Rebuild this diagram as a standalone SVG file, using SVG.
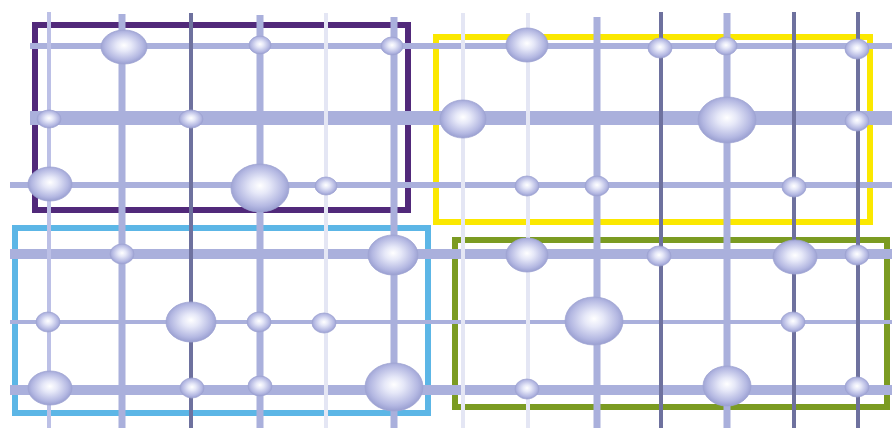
<svg xmlns="http://www.w3.org/2000/svg" width="892" height="428" viewBox="0 0 892 428">
<defs>
<radialGradient id="ball" cx="50%" cy="48%" r="55%" fx="50%" fy="45%">
<stop offset="0" stop-color="#ffffff"/>
<stop offset="0.3" stop-color="#e6e8f8"/>
<stop offset="0.75" stop-color="#b4b8e2"/>
<stop offset="1" stop-color="#9298cc"/>
</radialGradient>
<style>
.frame{fill:none;stroke-width:6}
.h{stroke:#aab0dc}
.vl{stroke:#aab0dc;stroke-width:7}
.vt{stroke:#bcc0e6;stroke-width:4}
.vd{stroke:#6e719e;stroke-width:4}
.vw{stroke:#e4e6f4;stroke-width:4}
.b{fill:url(#ball);stroke:#9ea3d2;stroke-width:0.8}
</style>
</defs>
<rect width="892" height="428" fill="#ffffff"/>
<g id="frames">
<rect id="frame-purple" class="frame" x="35" y="25" width="373" height="185" stroke="#51297a"/>
<rect id="frame-yellow" class="frame" x="436" y="37" width="434" height="185" stroke="#fbe800"/>
<rect id="frame-blue" class="frame" x="15" y="228" width="413" height="185" stroke="#5cb6e6"/>
<rect id="frame-green" class="frame" x="455" y="240" width="432" height="167" stroke="#7b9b22"/>
</g>
<g id="connectors">
<g id="horizontal">
<line class="h" x1="30" y1="46" x2="892" y2="46" stroke-width="6"/>
<line class="h" x1="30" y1="118" x2="892" y2="118" stroke-width="14"/>
<line class="h" x1="10" y1="185" x2="892" y2="185" stroke-width="6"/>
<line class="h" x1="10" y1="254" x2="892" y2="254" stroke-width="10"/>
<line class="h" x1="10" y1="322" x2="892" y2="322" stroke-width="4"/>
<line class="h" x1="10" y1="390" x2="892" y2="390" stroke-width="10"/>
</g>
<g id="vertical">
<line class="vt" x1="49" y1="12" x2="49" y2="428"/>
<line class="vl" x1="122" y1="14" x2="122" y2="428"/>
<line class="vd" x1="191" y1="13" x2="191" y2="428"/>
<line class="vl" x1="260" y1="15" x2="260" y2="428"/>
<line class="vw" x1="326" y1="13" x2="326" y2="428"/>
<line class="vl" x1="394" y1="17" x2="394" y2="428"/>
<line class="vw" x1="463" y1="13" x2="463" y2="428"/>
<line class="vw" x1="528" y1="13" x2="528" y2="428"/>
<line class="vl" x1="597" y1="17" x2="597" y2="428"/>
<line class="vd" x1="661" y1="12" x2="661" y2="428"/>
<line class="vl" x1="727" y1="13" x2="727" y2="428"/>
<line class="vd" x1="794" y1="12" x2="794" y2="428"/>
<line class="vd" x1="858" y1="12" x2="858" y2="428"/>
</g>
</g>
<g id="spheres">
<ellipse id="s1" class="b" cx="124" cy="47" rx="23" ry="17"/>
<ellipse id="s2" class="b" cx="260" cy="45" rx="11" ry="9"/>
<ellipse id="s3" class="b" cx="392" cy="46" rx="11" ry="9"/>
<ellipse id="s4" class="b" cx="527" cy="45" rx="21" ry="17"/>
<ellipse id="s5" class="b" cx="660" cy="48" rx="12" ry="10"/>
<ellipse id="s6" class="b" cx="726" cy="46" rx="11" ry="9"/>
<ellipse id="s7" class="b" cx="857" cy="49" rx="12" ry="10"/>
<ellipse id="s8" class="b" cx="49" cy="119" rx="12" ry="9"/>
<ellipse id="s9" class="b" cx="191" cy="119" rx="12" ry="9"/>
<ellipse id="s10" class="b" cx="463" cy="119" rx="23" ry="19"/>
<ellipse id="s11" class="b" cx="727" cy="120" rx="29" ry="23"/>
<ellipse id="s12" class="b" cx="857" cy="121" rx="12" ry="10"/>
<ellipse id="s13" class="b" cx="50" cy="184" rx="22" ry="17"/>
<ellipse id="s14" class="b" cx="260" cy="188" rx="29" ry="24"/>
<ellipse id="s15" class="b" cx="326" cy="186" rx="11" ry="9"/>
<ellipse id="s16" class="b" cx="527" cy="186" rx="12" ry="10"/>
<ellipse id="s17" class="b" cx="597" cy="186" rx="12" ry="10"/>
<ellipse id="s18" class="b" cx="794" cy="187" rx="12" ry="10"/>
<ellipse id="s19" class="b" cx="122" cy="254" rx="12" ry="10"/>
<ellipse id="s20" class="b" cx="393" cy="255" rx="25" ry="20"/>
<ellipse id="s21" class="b" cx="527" cy="255" rx="21" ry="17"/>
<ellipse id="s22" class="b" cx="659" cy="256" rx="12" ry="10"/>
<ellipse id="s23" class="b" cx="795" cy="257" rx="22" ry="17"/>
<ellipse id="s24" class="b" cx="857" cy="255" rx="12" ry="10"/>
<ellipse id="s25" class="b" cx="48" cy="322" rx="12" ry="10"/>
<ellipse id="s26" class="b" cx="191" cy="322" rx="25" ry="20"/>
<ellipse id="s27" class="b" cx="259" cy="322" rx="12" ry="10"/>
<ellipse id="s28" class="b" cx="324" cy="323" rx="12" ry="10"/>
<ellipse id="s29" class="b" cx="594" cy="321" rx="29" ry="24"/>
<ellipse id="s30" class="b" cx="793" cy="322" rx="12" ry="10"/>
<ellipse id="s31" class="b" cx="50" cy="388" rx="22" ry="17"/>
<ellipse id="s32" class="b" cx="192" cy="388" rx="12" ry="10"/>
<ellipse id="s33" class="b" cx="260" cy="386" rx="12" ry="10"/>
<ellipse id="s34" class="b" cx="394" cy="387" rx="29" ry="24"/>
<ellipse id="s35" class="b" cx="527" cy="389" rx="12" ry="10"/>
<ellipse id="s36" class="b" cx="727" cy="386" rx="24" ry="20"/>
<ellipse id="s37" class="b" cx="857" cy="387" rx="12" ry="10"/>
</g>
</svg>
